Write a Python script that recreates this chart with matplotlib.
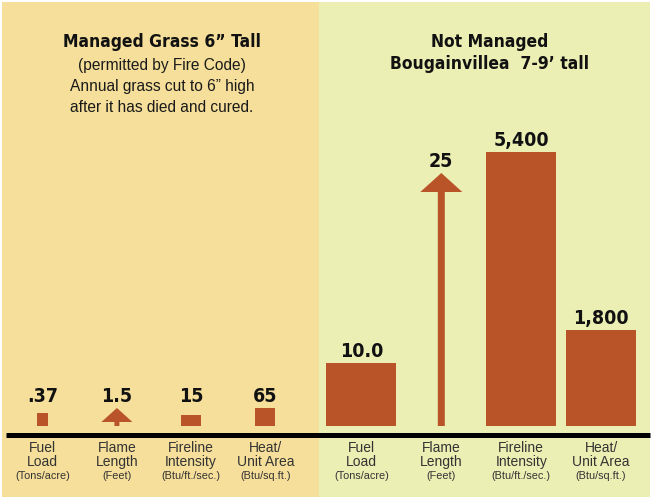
import matplotlib
matplotlib.use("Agg")
import matplotlib.pyplot as plt
from matplotlib.patches import Rectangle, FancyArrow
from matplotlib.lines import Line2D

# ---------------- data ----------------
categories = ["Fuel\nLoad", "Flame\nLength", "Fireline\nIntensity", "Heat/\nUnit Area"]
units = ["(Tons/acre)", "(Feet)", "(Btu/ft./sec.)", "(Btu/sq.ft.)"]
managed_labels = [".37", "1.5", "15", "65"]
unmanaged_labels = ["10.0", "25", "5,400", "1,800"]
# illustrative (display) heights of the marks, as drawn in the graphic
managed_heights = [13, 18, 11, 18]
unmanaged_heights = [63, 253, 274, 96]
arrow_index = 1  # Flame Length is drawn as an arrow

left_title = "Managed Grass 6\u201d Tall"
left_sub = ["(permitted by Fire Code)", "Annual grass cut to 6\u201d high",
            "after it has died and cured."]
right_title = ["Not Managed", "Bougainvillea  7-9\u2019 tall"]

# ---------------- style ----------------
W, H = 652, 500
BAR = "#B85427"
BG_L = "#F5DF9A"
BG_R = "#ECEFB4"
BOLDF = dict(family="DejaVu Sans", fontstretch="condensed", fontweight="bold")
REG = ["Liberation Sans", "DejaVu Sans"]

fig = plt.figure(figsize=(W / 100, H / 100), dpi=100)
fig.patch.set_facecolor("white")

def fx(px):
    return px / W

def fy(py):
    return 1 - py / H

# panel backgrounds
fig.patches.append(Rectangle((fx(2), fy(497)), fx(319 - 2), (497 - 2) / H,
                             transform=fig.transFigure, facecolor=BG_L, edgecolor="none", zorder=-5))
fig.patches.append(Rectangle((fx(319), fy(497)), fx(650 - 319), (497 - 2) / H,
                             transform=fig.transFigure, facecolor=BG_R, edgecolor="none", zorder=-5))

base_px = 426  # bar baseline (pixels from top)

def make_panel(x0, x1, first_px, step_px, heights, labels, widths_px,
               head_w, head_l, stem_w, align_labels):
    ax = fig.add_axes([fx(x0), fy(base_px), fx(x1 - x0), base_px / H])
    ax.set_zorder(2)
    ax.set_ylim(0, base_px)
    ax.set_xlim(-first_px / step_px, (x1 - x0 - first_px) / step_px)
    ax.axis("off")
    ax.patch.set_alpha(0)
    xs = list(range(len(heights)))
    for i, (x, h) in enumerate(zip(xs, heights)):
        if i == arrow_index:
            ax.add_patch(FancyArrow(x, 0, 0, h, width=stem_w / step_px,
                                    head_width=head_w / step_px, head_length=head_l,
                                    length_includes_head=True, color=BAR, lw=0))
        else:
            ax.bar(x, h, width=widths_px[i] / step_px, color=BAR, bottom=0)
    top = max(heights)
    for x, h, lab in zip(xs, heights, labels):
        y = (top if align_labels else h) + 6
        ax.text(x, y, lab, ha="center", va="baseline", fontsize=14,
                color="#111111", **BOLDF)
    for x, cat, un in zip(xs, categories, units):
        ax.text(x, -39.7, cat, ha="center", va="baseline", fontsize=10,
                family=REG, color="#333333", linespacing=1.0,
                multialignment="center")
        ax.text(x, -53.3, un, ha="center", va="baseline", fontsize=7.8,
                family=REG, color="#333333")
    return ax

make_panel(0, 319, 42.7, 74.2, managed_heights, managed_labels,
           [11, 0, 20, 20], 31, 14, 5, True)
make_panel(319, 652, 42.4, 79.9, unmanaged_heights, unmanaged_labels,
           [70, 0, 70, 70], 42, 19, 7, False)

# baseline black rule
fig.lines.append(Line2D([fx(6), fx(650)], [fy(434.5), fy(434.5)],
                        transform=fig.transFigure, color="black", lw=3.6,
                        solid_capstyle="butt"))

# titles
fig.text(fx(162), fy(46.7), left_title, ha="center", va="baseline",
         fontsize=12.5, color="#111111", **BOLDF)
for yb, s in zip([70, 91, 112], left_sub):
    fig.text(fx(162), fy(yb), s, ha="center", va="baseline",
             fontsize=11.2, family=REG, color="#1a1a1a")
for yb, s in zip([46.7, 69.3], right_title):
    fig.text(fx(490), fy(yb), s, ha="center", va="baseline",
             fontsize=12.5, color="#111111", **BOLDF)

fig.savefig("out.png", dpi=100, facecolor=fig.get_facecolor())
